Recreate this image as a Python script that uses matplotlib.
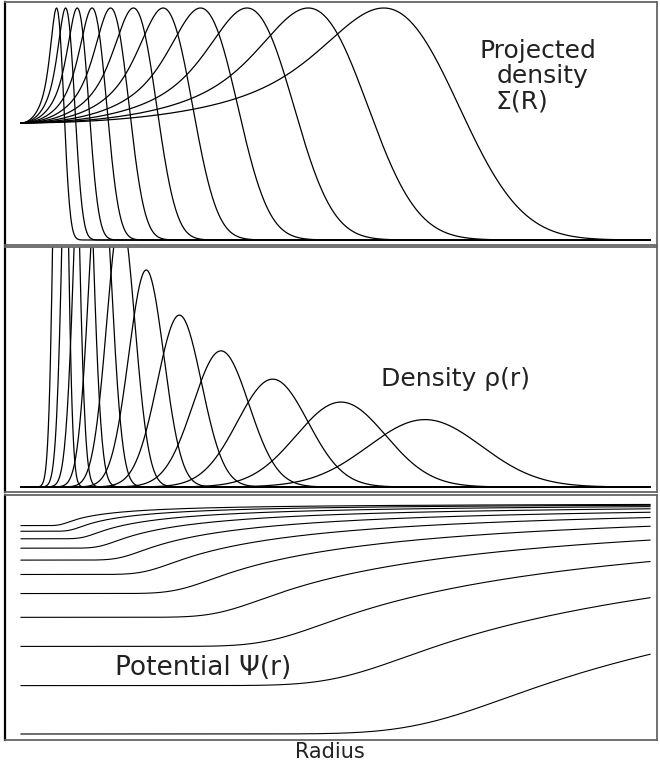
import numpy as np
import matplotlib
matplotlib.use('Agg')
import matplotlib.pyplot as plt

# shell radii (in "radius" units), gaussian widths and peak densities
shell_radius = [0.98, 1.23, 1.55, 1.96, 2.47, 3.1, 3.92, 4.95, 6.23, 7.92, 10.0]
shell_width = [0.137, 0.172, 0.217, 0.274, 0.346, 0.434, 0.549, 0.693, 0.872, 1.109, 1.4]
rho_peak = [1.02, 0.81, 0.645, 0.51, 0.405, 0.322, 0.255, 0.202, 0.16, 0.126, 0.1]
r_end = 15.57

W, H = 660, 763
plt.rcParams['font.family'] = ['DejaVu Sans']
fig = plt.figure(figsize=(W / 100, H / 100), dpi=100)

def px_axes(x0, y0, x1, y1):
    return fig.add_axes([x0 / W, 1 - y1 / H, (x1 - x0) / W, (y1 - y0) / H])

ax_sig = px_axes(5, 2, 657, 245)
ax_rho = px_axes(5, 247, 657, 492)
ax_psi = px_axes(5, 495, 657, 740)

r = np.linspace(0, r_end, 900)
r_full = np.linspace(0, 40, 8000)
z = np.linspace(0, 20, 3000)

def rho(x, i):
    return rho_peak[i] * np.exp(-(x - shell_radius[i]) ** 2 / (2 * shell_width[i] ** 2))

psi_all = []
for i in range(len(shell_radius)):
    # density
    ax_rho.plot(r, rho(r, i), color='black', lw=0.9)

    # projected density: integrate along line of sight
    rr = np.sqrt(r[:, None] ** 2 + z[None, :] ** 2)
    sig = 2 * np.trapezoid(rho(rr, i), z, axis=1)
    ax_sig.plot(r, sig / sig.max(), color='black', lw=0.9)

    # potential
    d = rho(r_full, i)
    g = 4 * np.pi * r_full ** 2 * d
    m_in = np.concatenate([[0], np.cumsum(0.5 * (g[1:] + g[:-1]) * np.diff(r_full))])
    f = 4 * np.pi * r_full * d
    outer_c = np.concatenate([[0], np.cumsum(0.5 * (f[1:] + f[:-1]) * np.diff(r_full))])
    outer = outer_c[-1] - outer_c
    with np.errstate(divide='ignore', invalid='ignore'):
        psi = -(np.where(r_full > 0, m_in / r_full, 0) + outer)
    psi_all.append(np.interp(r, r_full, psi))

for psi in psi_all:
    ax_psi.plot(r, psi, color='black', lw=0.8)

x0px, unit = 21, 40.4
xlim = (-(x0px - 5) / unit, (657 - x0px) / unit)
deep = min(p.min() for p in psi_all)
span = abs(deep) / (734 - 503)
ax_psi.set_ylim(deep - 6 * span, 8 * span)
ax_sig.set_ylim(-5 / 232, 1 + 6 / 232)
ax_rho.set_ylim(-5 / 674, 240 / 674)

for ax in (ax_sig, ax_rho, ax_psi):
    ax.set_xlim(*xlim)
    ax.set_xticks([])
    ax.set_yticks([])
    for s in ax.spines.values():
        s.set_color('#666666')
        s.set_linewidth(1.3)
    ax.spines['left'].set_color('black')
    ax.spines['left'].set_linewidth(1.6)

def label(x, y, s, size=18, ha='left'):
    fig.text(x / W, 1 - y / H, s, fontsize=size, va='baseline', ha=ha, color='#222222')

label(480, 58, 'Projected')
label(497, 83, 'density')
label(495, 108, 'Σ(R)')
label(381, 386, 'Density ρ(r)')
label(115, 675, 'Potential Ψ(r)', size=19)
label(330, 758, 'Radius', size=15, ha='center')

fig.savefig('out.png', dpi=100)
